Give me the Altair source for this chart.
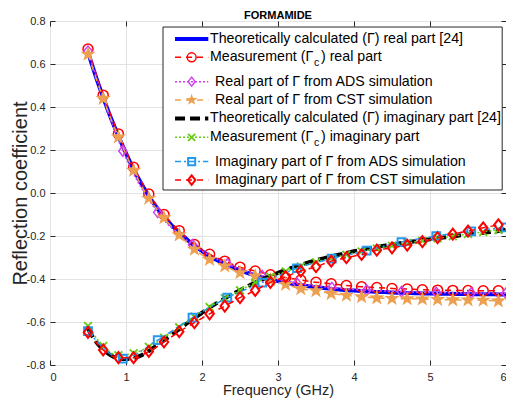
import altair as alt
import pandas as pd

# ---------------- data ----------------
freq_theory = [round(0.5 + 0.1 * i, 1) for i in range(56)]
real_theory = [0.655, 0.545, 0.445, 0.350, 0.265, 0.185, 0.110, 0.045, -0.015, -0.065,
               -0.110, -0.150, -0.185, -0.215, -0.245, -0.270, -0.293, -0.313, -0.330, -0.345,
               -0.360, -0.372, -0.383, -0.393, -0.402, -0.410, -0.417, -0.423, -0.429, -0.434,
               -0.438, -0.442, -0.446, -0.449, -0.452, -0.454, -0.456, -0.458, -0.460, -0.461,
               -0.463, -0.464, -0.465, -0.466, -0.467, -0.468, -0.468, -0.469, -0.469, -0.470,
               -0.470, -0.471, -0.471, -0.471, -0.472, -0.472]
imag_theory = [-0.630, -0.690, -0.728, -0.755, -0.770, -0.772, -0.768, -0.755, -0.735, -0.710,
               -0.685, -0.660, -0.633, -0.607, -0.582, -0.557, -0.533, -0.511, -0.490, -0.470,
               -0.452, -0.434, -0.417, -0.401, -0.386, -0.372, -0.358, -0.346, -0.334, -0.323,
               -0.313, -0.304, -0.295, -0.287, -0.279, -0.271, -0.264, -0.257, -0.251, -0.245,
               -0.239, -0.234, -0.229, -0.224, -0.219, -0.215, -0.210, -0.206, -0.201, -0.197,
               -0.193, -0.189, -0.185, -0.181, -0.177, -0.170]

freq_meas = [round(0.5 + 0.2 * i, 1) for i in range(28)]
real_meas = [0.670, 0.455, 0.275, 0.120, -0.005, -0.100, -0.175, -0.240, -0.285, -0.317,
             -0.345, -0.363, -0.380, -0.393, -0.405, -0.415, -0.422, -0.430, -0.436, -0.440,
             -0.444, -0.447, -0.450, -0.452, -0.453, -0.454, -0.455, -0.455]
imag_meas = [-0.619, -0.712, -0.755, -0.745, -0.715, -0.673, -0.625, -0.575, -0.530, -0.490,
             -0.452, -0.418, -0.390, -0.365, -0.342, -0.322, -0.303, -0.287, -0.272, -0.258,
             -0.245, -0.233, -0.222, -0.211, -0.201, -0.191, -0.181, -0.172]

freq_cst = freq_meas
real_cst = [0.645, 0.440, 0.260, 0.105, -0.025, -0.115, -0.195, -0.262, -0.309, -0.340,
            -0.371, -0.386, -0.405, -0.425, -0.445, -0.455, -0.468, -0.476, -0.483, -0.488,
            -0.491, -0.492, -0.493, -0.495, -0.497, -0.498, -0.499, -0.502]
imag_cst = [-0.648, -0.730, -0.766, -0.766, -0.737, -0.693, -0.645, -0.603, -0.562, -0.526,
            -0.487, -0.453, -0.416, -0.389, -0.363, -0.343, -0.317, -0.301, -0.286, -0.266,
            -0.255, -0.242, -0.226, -0.208, -0.191, -0.177, -0.162, -0.148]

freq_ads = [0.5, 0.958, 1.417, 1.875, 2.333, 2.792, 3.25, 3.708, 4.167, 4.625, 5.083, 5.542, 6.0]
real_ads = [0.660, 0.195, -0.090, -0.240, -0.330, -0.385, -0.420, -0.440, -0.452, -0.459,
            -0.463, -0.465, -0.466]
imag_ads = [-0.642, -0.770, -0.684, -0.580, -0.487, -0.417, -0.350, -0.305, -0.268, -0.228,
            -0.200, -0.178, -0.160]

legend_labels = [
    "Theoretically calculated (\u0393) real part [24]",
    "Measurement (\u0393",
    "Real part of \u0393 from ADS simulation",
    "Real part of \u0393 from CST simulation",
    "Theoretically calculated (\u0393) imaginary part [24]",
    "Measurement (\u0393",
    "Imaginary part of \u0393 from ADS simulation",
    "Imaginary part of \u0393 from CST simulation",
]
legend_tails = [") real part", ") imaginary part"]

# ---------------- styles ----------------
BLUE, RED, MAG, ORA, BLK, GRN, LBL = "#0000ff", "#ff0000", "#d040f0", "#eda050", "#000000", "#66cc11", "#2299ee"
X_PATH = "M-1,-1L1,1M1,-1L-1,1"
DIAM_PATH = "M0,-1L0.78,0L0,1L-0.78,0Z"
STAR_PATH = ("M0,-1L0.235,-0.324L0.951,-0.309L0.380,0.124L0.588,0.809L0,0.4"
             "L-0.588,0.809L-0.380,0.124L-0.951,-0.309L-0.235,-0.324Z")

series = [
    # freq, values, color, dash, width, shape, filled, size, strokeWidth
    (freq_theory, real_theory, BLUE, None, 4, None, False, 0, 0),
    (freq_meas, real_meas, RED, [6, 5], 1.5, "circle", False, 100, 1.5),
    (freq_ads, real_ads, MAG, [2, 2], 1.5, DIAM_PATH, False, 110, 1.5),
    (freq_cst, real_cst, ORA, [6, 5], 1.5, STAR_PATH, True, 260, 0),
    (freq_theory, imag_theory, BLK, [10, 5], 4, None, False, 0, 0),
    (freq_meas, imag_meas, GRN, [2, 2], 1.5, X_PATH, False, 60, 1.8),
    (freq_ads, imag_ads, LBL, [6, 3, 2, 3], 1.5, "square", False, 60, 2),
    (freq_cst, imag_cst, RED, [6, 5], 1.5, DIAM_PATH, False, 120, 2),
]

xscale = alt.Scale(domain=[0, 6], nice=False, zero=False)
yscale = alt.Scale(domain=[-0.8, 0.8], nice=False, zero=False)
TXT = "#262626"
FONT = "Liberation Sans"
XT = [0, 1, 2, 3, 4, 5, 6]
YT = [-0.8, -0.6, -0.4, -0.2, 0, 0.2, 0.4, 0.6, 0.8]

main_x_axis = alt.Axis(orient="bottom", values=XT, offset=-5, tickSize=5,
                       domain=False, grid=True, gridColor="#e3e3e3", tickColor=TXT,
                       labelColor=TXT, labelFontSize=11, labelFont=FONT, labelPadding=6,
                       title="Frequency (GHz)", titleFontSize=14.5, titleFont=FONT,
                       titleFontWeight="normal", titleColor=TXT, titlePadding=1)
main_y_axis = alt.Axis(orient="left", values=YT, offset=-5, tickSize=5, domain=False,
                       grid=True, gridColor="#e3e3e3", tickColor=TXT, labelColor=TXT,
                       labelFontSize=11, labelFont=FONT, labelPadding=5,
                       labelExpr="replace(datum.label, '\u2212', '-')",
                       title="Reflection coefficient", titleFontSize=20, titleFont=FONT,
                       titleFontWeight="normal", titleColor=TXT, titlePadding=-4)
top_axis = alt.Axis(orient="top", values=XT, offset=-5, tickSize=5, domain=False,
                    grid=False, labels=False, title=None, tickColor=TXT)
right_axis = alt.Axis(orient="right", values=YT, offset=-5, tickSize=5, domain=False,
                      grid=False, labels=False, title=None, tickColor=TXT)

layers = []
for i, (fr, vals, col, dash, w, shape, filled, size, sw) in enumerate(series):
    df = pd.DataFrame({"f": fr, "v": vals})
    xa = main_x_axis if i == 0 else (top_axis if i == 1 else None)
    ya = main_y_axis if i == 0 else (right_axis if i == 1 else None)
    line_kw = dict(color=col, strokeWidth=w, interpolate="monotone", strokeCap="butt")
    if dash:
        line_kw["strokeDash"] = dash
    layers.append(alt.Chart(df).mark_line(**line_kw).encode(
        x=alt.X("f:Q", scale=xscale, axis=xa), y=alt.Y("v:Q", scale=yscale, axis=ya)))
    if shape:
        if filled:
            pk = dict(shape=shape, filled=True, color=col, size=size, opacity=1)
        else:
            pk = dict(shape=shape, filled=False, color=col, size=size, strokeWidth=sw, opacity=1)
        layers.append(alt.Chart(df).mark_point(**pk).encode(
            x=alt.X("f:Q", scale=xscale, axis=None), y=alt.Y("v:Q", scale=yscale, axis=None)))

# ---------------- legend (decoration, in data units) ----------------
box = pd.DataFrame({"x": [1.487], "x2": [5.95], "y": [0.014], "y2": [0.772]})
layers.append(alt.Chart(box).mark_rect(fill="white", stroke=TXT, strokeWidth=1).encode(
    x=alt.X("x:Q", scale=xscale, axis=None), x2="x2",
    y=alt.Y("y:Q", scale=yscale, axis=None), y2="y2"))

row_y = [0.716, 0.631, 0.518, 0.433, 0.347, 0.259, 0.146, 0.060]
row_x = [2.105, 2.105, 2.171, 2.171, 2.105, 2.105, 2.171, 2.171]
leg_sizes = [0, 80, 80, 150, 0, 50, 50, 90]
for i, (fr, vals, col, dash, w, shape, filled, size, sw) in enumerate(series):
    seg = pd.DataFrame({"x": [1.645], "x2": [2.083], "y": [row_y[i]]})
    rk = dict(color=col, strokeWidth=w, strokeCap="butt")
    if dash:
        rk["strokeDash"] = dash
    layers.append(alt.Chart(seg).mark_rule(**rk).encode(
        x=alt.X("x:Q", scale=xscale, axis=None), x2="x2",
        y=alt.Y("y:Q", scale=yscale, axis=None)))
    if shape:
        pt = pd.DataFrame({"x": [1.864], "y": [row_y[i]]})
        if filled:
            pk = dict(shape=shape, filled=True, color=col, size=leg_sizes[i], opacity=1)
        else:
            pk = dict(shape=shape, filled=False, color=col, size=leg_sizes[i], strokeWidth=sw, opacity=1)
        layers.append(alt.Chart(pt).mark_point(**pk).encode(
            x=alt.X("x:Q", scale=xscale, axis=None), y=alt.Y("y:Q", scale=yscale, axis=None)))

LFS = 14.2
txt = pd.DataFrame({"x": row_x, "y": row_y, "t": legend_labels})
layers.append(alt.Chart(txt).mark_text(align="left", baseline="middle", fontSize=LFS,
                                        font=FONT, color="black").encode(
    x=alt.X("x:Q", scale=xscale, axis=None), y=alt.Y("y:Q", scale=yscale, axis=None), text="t:N"))
sub = pd.DataFrame({"x": [row_x[1], row_x[5]], "y": [row_y[1], row_y[5]], "t": ["c", "c"]})
layers.append(alt.Chart(sub).mark_text(align="left", baseline="middle", fontSize=10.5, dx=104,
                                        dy=6, font=FONT, color="black").encode(
    x=alt.X("x:Q", scale=xscale, axis=None), y=alt.Y("y:Q", scale=yscale, axis=None), text="t:N"))
tail = pd.DataFrame({"x": [row_x[1], row_x[5]], "y": [row_y[1], row_y[5]], "t": legend_tails})
layers.append(alt.Chart(tail).mark_text(align="left", baseline="middle", fontSize=LFS, dx=111,
                                         font=FONT, color="black").encode(
    x=alt.X("x:Q", scale=xscale, axis=None), y=alt.Y("y:Q", scale=yscale, axis=None), text="t:N"))

chart = alt.layer(*layers).resolve_axis(x="independent", y="independent").properties(
    width=456, height=344,
    title=alt.TitleParams("FORMAMIDE", fontSize=11, fontWeight="bold", font=FONT,
                          color="black", anchor="middle", offset=4, dy=10),
    autosize=alt.AutoSizeParams(type="none"),
    padding={"left": 42, "top": 13, "right": 0, "bottom": 34},
).configure_view(stroke=TXT, strokeWidth=1).configure(background="white")

chart.save("out.html", embed_options={"renderer": "svg", "actions": False})
